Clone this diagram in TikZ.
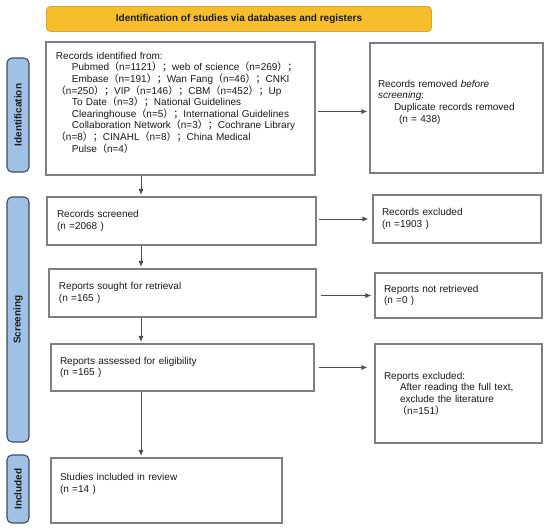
\documentclass[tikz,border=0pt]{standalone}
\usepackage{fontspec}
\setmainfont{Liberation Sans}
\newfontfamily\cjk{Noto Sans CJK SC}
\usetikzlibrary{arrows.meta}
\newcommand{\fl}{{\cjk （}}
\newcommand{\fr}{{\cjk ）}}
\newcommand{\fs}{{\cjk ；}}
\newcommand{\ind}{\hspace*{16pt}}
\definecolor{boxgray}{HTML}{7F7F7F}
\definecolor{arrgray}{HTML}{4D4D4D}
\definecolor{sidefill}{HTML}{A0C1E6}
\definecolor{sidedraw}{HTML}{3F4B5B}
\definecolor{titlefill}{HTML}{F6BE2D}
\definecolor{titledraw}{HTML}{DCA426}
\definecolor{txt}{HTML}{1A1A1A}
\begin{document}
\begin{tikzpicture}[x=1pt,y=-1pt,
  box/.style={draw=boxgray, line width=1.1pt, fill=white, align=left,
    inner ysep=2pt, text=txt, font=\fontsize{10}{11.6}\selectfont, anchor=center},
  side/.style={draw=sidedraw, line width=1.1pt, fill=sidefill, rounded corners=5pt,
    rotate=90, minimum height=22pt, inner sep=0pt, text=txt,
    font=\fontsize{10}{12}\bfseries\selectfont, anchor=center},
  arr/.style={draw=arrgray, line width=0.9pt, -{Latex[length=6pt,width=5pt]}}
]
\useasboundingbox (0,0) rectangle (550,531);

% title
\node[draw=titledraw, fill=titlefill, line width=0.9pt, rounded corners=4pt,
  minimum width=385pt, minimum height=25pt, inner sep=0pt, text=txt,
  font=\fontsize{10}{12}\bfseries\selectfont] (title) at (239,19)
  {Identification of studies via databases and registers};

% side bars
\node[side, minimum width=114pt] (sideid) at (18,115) {Identification};
\node[side, minimum width=245pt] (sidescr) at (18,319.5) {Screening};
\node[side, minimum width=68pt] (sideinc) at (18,489) {Included};

% boxes
\node[box, inner xsep=10pt, text width=249pt, minimum height=133pt] (ident) at (180.5,108.5)
{Records identified from:\\
\ind Pubmed\fl n=1121\fr\fs web of science\fl n=269\fr\fs\\
\ind Embase\fl n=191\fr\fs Wan Fang\fl n=46\fr\fs CNKI\\
\fl n=250\fr\fs VIP\fl n=146\fr\fs CBM\fl n=452\fr\fs Up\\
\ind To Date\fl n=3\fr\fs National Guidelines\\
\ind Clearinghouse\fl n=5\fr\fs International Guidelines\\
\ind Collaboration Network\fl n=3\fr\fs Cochrane Library\\
\fl n=8\fr\fs CINAHL\fl n=8\fr\fs China Medical\\
\ind Pulse\fl n=4\fr\rule[-13pt]{0pt}{13pt}};

\node[box, inner xsep=8pt, text width=157pt, minimum height=130pt] (removed) at (456.5,108)
{Records removed \textit{before}\\
\textit{screening}:\\
\hspace*{16pt}Duplicate records removed\\
\hspace*{21pt}(n = 438)\rule[-14pt]{0pt}{14pt}};

\node[box, inner xsep=10pt, text width=249pt, minimum height=48pt] (screened) at (181.5,221)
{Records screened\\(n =2068 )};

\node[box, inner xsep=9pt, text width=150pt, minimum height=48pt] (excluded) at (457,219)
{Records excluded\\(n =1903 )};

\node[box, inner xsep=10pt, text width=247pt, minimum height=48pt] (sought) at (182.5,293)
{Reports sought for retrieval\\(n =165 )};

\node[box, inner xsep=9pt, text width=149pt, minimum height=45pt] (notretr) at (458.5,295.5)
{Reports not retrieved\\(n =0 )};

\node[box, inner xsep=9pt, text width=245pt, minimum height=47pt] (assessed) at (182.5,367.5)
{Reports assessed for eligibility\\(n =165 )};

\node[box, inner xsep=9pt, text width=149pt, minimum height=99pt] (repexcl) at (458.5,393.5)
{Reports excluded:\\
\hspace*{16pt}After reading the full text,\\
\hspace*{16pt}exclude the literature\\
\hspace*{13pt}\fl n=151\fr};

\node[box, inner xsep=9pt, text width=213pt, minimum height=65pt] (included) at (166.5,490.5)
{Studies included in review\\(n =14 )\rule[-15pt]{0pt}{15pt}};

% connectors
\coordinate (col) at (141,0);
\draw[arr, shorten >=1.5pt] (ident.south -| col) -- (screened.north -| col);
\draw[arr, shorten >=1.5pt] (screened.south -| col) -- (sought.north -| col);
\draw[arr, shorten >=1.5pt] (sought.south -| col) -- (assessed.north -| col);
\draw[arr, shorten >=1.5pt] (assessed.south -| col) -- (included.north -| col);

\draw[arr, shorten <=2pt, shorten >=2pt] (ident.east) ++(0,3) coordinate (a1) (a1) -- (a1 -| removed.west);
\draw[arr, shorten <=2.5pt, shorten >=4pt] (screened.east |- excluded.west) -- (excluded.west);
\draw[arr, shorten <=4pt, shorten >=3pt] (sought.east |- notretr.west) -- (notretr.west);
\draw[arr, shorten <=4pt, shorten >=7pt] (assessed.east) -- (assessed.east -| repexcl.west);
\end{tikzpicture}
\end{document}
